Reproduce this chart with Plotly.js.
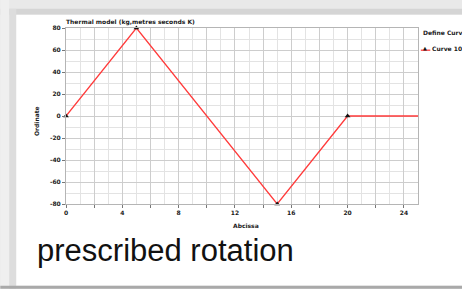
<!DOCTYPE html>
<html>
<head>
<meta charset="utf-8">
<script src="https://cdn.plot.ly/plotly-3.0.1.min.js"></script>
<style>html,body{margin:0;padding:0;background:#fff;}#chart{width:462px;height:289px;}</style>
</head>
<body>
<div id="chart"></div>
<script>
// Data
const xVals = [0, 5, 15, 20, 25];
const yVals = [0, 80, -80, 0, 0];
const markerCount = 4; // points carrying a triangle marker
const xTickVals = [0, 2, 4, 6, 8, 10, 12, 14, 16, 18, 20, 22, 24];
const xTickText = ['0', '', '4', '', '8', '', '12', '', '16', '', '20', '', '24'];
const yTickVals = [-80, -60, -40, -20, 0, 20, 40, 60, 80];
const yTickText = ['-80', '-60', '-40', '-20', '0', '20', '40', '60', '80'];
const chartTitle = 'Thermal model (kg,metres seconds K)';
const xTitle = 'Abcissa';
const yTitle = 'Ordinate';
const legendTitle = 'Define Curve';
const seriesName = 'Curve 10';
const slideText = 'prescribed rotation';

// Layout geometry
const W = 462, H = 289;
const L = 65.7, R = 44.3, T = 28.3, B = 84.7;
const pw = W - L - R, ph = H - T - B;
const px = p => (p - L) / pw;
const py = p => (H - B - p) / ph;

const smallFont = {family: 'DejaVu Sans', size: 6, color: '#1a1a1a', weight: 'bold'};

const traces = [
  {
    x: xVals, y: yVals, type: 'scatter', mode: 'lines',
    line: {color: '#ff3b3b', width: 1.3}, name: seriesName,
    showlegend: false, hoverinfo: 'skip'
  },
  {
    x: xVals.slice(0, markerCount), y: yVals.slice(0, markerCount),
    type: 'scatter', mode: 'markers', cliponaxis: false,
    marker: {symbol: 'triangle-up', size: 5, color: '#111'},
    showlegend: false, hoverinfo: 'skip'
  }
];

const rect = (x0, y0, x1, y1, color) => ({
  type: 'rect', xref: 'paper', yref: 'paper', layer: 'below',
  x0: px(x0), x1: px(x1), y0: py(y0), y1: py(y1),
  fillcolor: color, line: {width: 0}
});

const layout = {
  width: W, height: H,
  margin: {l: L, r: R, t: T, b: B, pad: 0},
  paper_bgcolor: '#e8e8e8',
  plot_bgcolor: 'rgba(0,0,0,0)',
  showlegend: false,
  title: {
    text: chartTitle, font: smallFont,
    xref: 'paper', x: 0, xanchor: 'left',
    yref: 'container', y: 1 - 22 / H, yanchor: 'middle'
  },
  xaxis: {
    range: [0, 25], tickmode: 'array', tickvals: xTickVals, ticktext: xTickText,
    ticks: 'outside', ticklen: 3, tickcolor: '#777', tickwidth: 1,
    tickfont: smallFont,
    showgrid: true, gridcolor: '#cdcdcd', gridwidth: 1,
    minor: {dtick: 1, showgrid: true, gridcolor: '#e3e3e3', ticks: ''},
    showline: true, linecolor: '#b5b5b5', linewidth: 1, mirror: true,
    zeroline: false, fixedrange: true
  },
  yaxis: {
    range: [-80, 80], tickmode: 'array', tickvals: yTickVals, ticktext: yTickText,
    ticks: 'outside', ticklen: 3, tickcolor: '#777', tickwidth: 1,
    tickfont: smallFont,
    showgrid: true, gridcolor: '#cdcdcd', gridwidth: 1,
    minor: {dtick: 10, showgrid: true, gridcolor: '#e3e3e3', ticks: ''},
    showline: true, linecolor: '#b5b5b5', linewidth: 1, mirror: true,
    zeroline: false, fixedrange: true
  },
  shapes: [
    rect(0, 0, W, 9, '#e9e9e9'),
    rect(0, 9, W, 15, '#d5d5d5'),
    rect(0, 0, 9, H, '#efefef'),
    rect(9, 9, 16, H, '#dddddd'),
    rect(16, 15, W, 286, '#ffffff'),
    rect(0, 286, W, H, '#a9a9a9'),
    {type: 'line', xref: 'paper', yref: 'paper', layer: 'above',
     x0: px(420.5), x1: px(430), y0: py(50.5), y1: py(50.5),
     line: {color: '#ff3b3b', width: 1.3}}
  ],
  annotations: [
    {text: xTitle, xref: 'paper', yref: 'paper', x: px(246), y: py(226),
     xanchor: 'center', yanchor: 'middle', showarrow: false, font: smallFont},
    {text: yTitle, xref: 'paper', yref: 'paper', x: px(36), y: py(121),
     xanchor: 'center', yanchor: 'middle', showarrow: false, textangle: -90, font: smallFont},
    {text: legendTitle, xref: 'paper', yref: 'paper', x: px(420.5), y: py(33),
     xanchor: 'left', yanchor: 'middle', showarrow: false, font: smallFont},
    {text: '▲', xref: 'paper', yref: 'paper', x: px(424.5), y: py(48.5),
     xanchor: 'center', yanchor: 'middle', showarrow: false,
     font: {family: 'DejaVu Sans', size: 5, color: '#111'}},
    {text: seriesName, xref: 'paper', yref: 'paper', x: px(429.5), y: py(48.5),
     xanchor: 'left', yanchor: 'middle', showarrow: false, font: smallFont},
    {text: slideText, xref: 'paper', yref: 'paper', x: px(35), y: py(251),
     xanchor: 'left', yanchor: 'middle', showarrow: false,
     font: {family: 'Liberation Sans', size: 31, color: '#111'}}
  ]
};

Plotly.newPlot('chart', traces, layout, {displayModeBar: false, staticPlot: true});
</script>
</body>
</html>
